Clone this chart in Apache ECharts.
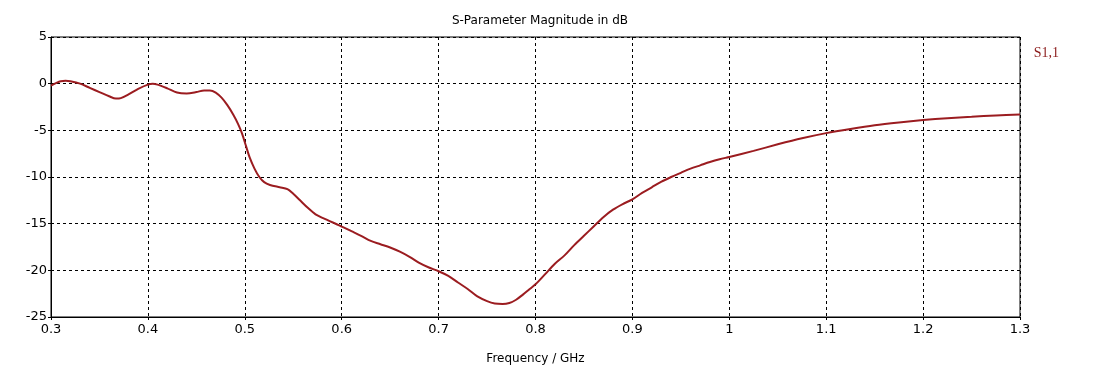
<!DOCTYPE html>
<html>
<head>
<meta charset="utf-8">
<script src="https://cdn.jsdelivr.net/npm/echarts@6/dist/echarts.min.js"></script>
<style>html,body{margin:0;padding:0;background:#fff;}#c{width:1094px;height:372px;}</style>
</head>
<body>
<div id="c"></div>
<script>
const freq = [0.300,0.305,0.310,0.315,0.320,0.330,0.340,0.350,0.360,0.367,0.372,0.380,0.390,0.400,0.405,0.410,0.420,0.430,0.440,0.450,0.458,0.464,0.470,0.476,0.482,0.488,0.493,0.497,0.501,0.505,0.510,0.515,0.520,0.526,0.536,0.544,0.550,0.557,0.565,0.573,0.585,0.598,0.610,0.620,0.630,0.640,0.650,0.660,0.670,0.680,0.690,0.700,0.710,0.720,0.730,0.740,0.750,0.758,0.766,0.773,0.780,0.787,0.794,0.800,0.810,0.820,0.830,0.840,0.850,0.860,0.870,0.880,0.890,0.900,0.910,0.920,0.930,0.940,0.950,0.960,0.970,0.980,0.990,1.000,1.025,1.050,1.075,1.100,1.125,1.150,1.175,1.200,1.225,1.250,1.275,1.300];
const s11 = [-0.2,0.05,0.25,0.3,0.25,0.0,-0.45,-0.9,-1.35,-1.6,-1.55,-1.15,-0.55,-0.1,0.0,-0.1,-0.5,-0.95,-1.05,-0.9,-0.72,-0.72,-0.95,-1.5,-2.3,-3.3,-4.3,-5.3,-6.6,-7.9,-9.1,-10.0,-10.55,-10.85,-11.1,-11.3,-11.8,-12.5,-13.3,-14.0,-14.6,-15.2,-15.8,-16.3,-16.85,-17.2,-17.55,-18.0,-18.55,-19.2,-19.7,-20.1,-20.6,-21.3,-22.0,-22.8,-23.3,-23.55,-23.6,-23.5,-23.15,-22.6,-22.0,-21.5,-20.4,-19.3,-18.4,-17.3,-16.3,-15.3,-14.3,-13.5,-12.9,-12.4,-11.7,-11.1,-10.5,-10.0,-9.55,-9.1,-8.75,-8.4,-8.1,-7.85,-7.2,-6.5,-5.85,-5.3,-4.85,-4.45,-4.15,-3.9,-3.7,-3.55,-3.4,-3.3];
const seriesName = 'S1,1';
const titleText = 'S-Parameter Magnitude in dB';
const xName = 'Frequency / GHz';

const chart = echarts.init(document.getElementById('c'), null, {renderer:'canvas'});
const font = 'DejaVu Sans';
const grid = {lineStyle:{color:'#000', type:[3,3], width:1}};
chart.setOption({
  animation:false,
  backgroundColor:'#fff',
  title:{text:titleText, left:535, top:10, textAlign:'center',
    textStyle:{fontFamily:font, fontSize:12, fontWeight:'normal', color:'#000'}},
  legend:{data:[seriesName], right:30, top:41, icon:'rect', itemWidth:0, itemHeight:0, itemGap:0,
    textStyle:{fontFamily:'Liberation Serif', fontSize:14, color:'#8b1a1a'}},
  grid:{left:51, right:74, top:37, bottom:55, show:true, borderColor:'#000', borderWidth:1},
  xAxis:{type:'value', min:0.3, max:1.3, interval:0.1,
    name:xName, nameLocation:'middle', nameGap:36,
    nameTextStyle:{fontFamily:font, fontSize:12, color:'#000'},
    axisLine:{show:true, onZero:false, lineStyle:{color:'#000'}},
    axisTick:{show:true, length:3, lineStyle:{color:'#000'}},
    axisLabel:{fontFamily:font, fontSize:13, color:'#000', margin:6,
      formatter:v=>String(+v.toFixed(1))},
    splitLine:{show:true, ...grid}},
  yAxis:{type:'value', min:-25, max:5, interval:5,
    axisLine:{show:true, onZero:false, lineStyle:{color:'#000'}},
    axisTick:{show:true, length:3, lineStyle:{color:'#000'}},
    axisLabel:{fontFamily:font, fontSize:13, color:'#000', margin:4},
    splitLine:{show:true, ...grid}},
  series:[{name:seriesName, type:'line', data:freq.map((f,i)=>[f,s11[i]]),
    smooth:0.3, showSymbol:false, lineStyle:{color:'#9b1c20', width:2}, itemStyle:{color:'#9b1c20'}}]
});
</script>
</body>
</html>
